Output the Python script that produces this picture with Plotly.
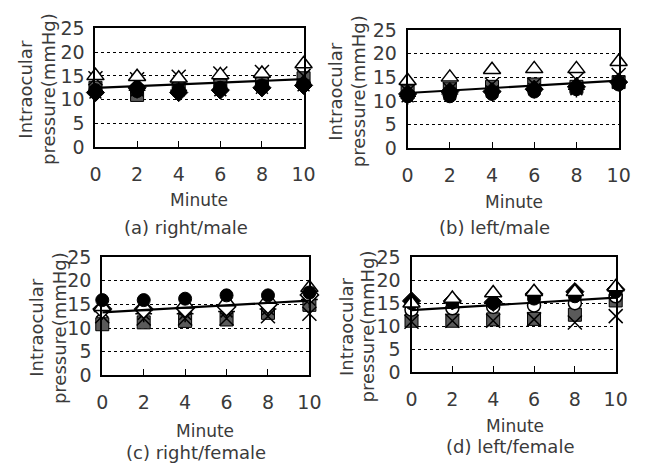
import plotly.graph_objects as go

minutes = [0, 2, 4, 6, 8, 10]
tick_y = [0, 5, 10, 15, 20, 25]

# (a) right/male
a_tri = [15.0, 14.8, 14.5, 15.2, 15.5, 17.5]
a_x = [14.5, 14.3, 14.8, 15.5, 15.8, 15.0]
a_circ = [12.0, 11.8, 12.0, 12.5, 13.0, 13.2]
a_dia = [11.5, 12.5, 11.5, 12.0, 12.5, 13.0]
a_sq = [12.5, 11.0, 12.5, 13.0, 13.5, 14.5]
a_ast = [11.5, 12.0, 12.0, 12.0, 12.5, 13.0]
a_trend = [12.5, 14.3]

# (b) left/male
b_tri = [14.3, 15.0, 16.6, 16.8, 16.8, 18.3]
b_x = [12.0, 12.5, 13.5, 13.5, 14.5, 15.5]
b_circ = [11.0, 11.0, 11.5, 12.0, 12.5, 13.5]
b_dia = [11.5, 12.0, 12.0, 12.5, 13.0, 14.0]
b_sq = [12.0, 12.5, 13.0, 13.5, 13.0, 14.0]
b_ast = [11.0, 11.5, 12.0, 12.5, 12.5, 14.0]
b_trend = [11.7, 14.3]

# (c) right/female
c_circ = [15.9, 15.9, 16.2, 16.9, 16.9, 17.5]
c_tri = [14.5, 14.5, 15.0, 15.5, 16.0, 18.5]
c_odia = [14.0, 14.0, 14.2, 14.5, 15.0, 17.0]
c_sq = [10.8, 11.2, 11.5, 11.8, 13.2, 14.9]
c_x = [12.5, 12.0, 12.0, 12.0, 12.5, 13.0]
c_ast = [13.5, 13.0, 13.0, 13.5, 14.0, 16.0]
c_trend = [13.3, 15.8]

# (d) left/female
d_tri = [15.0, 16.0, 17.2, 17.5, 17.5, 18.5]
d_dia = [15.5, 15.5, 15.2, 17.0, 17.5, 18.0]
d_circ = [15.0, 15.2, 15.0, 16.0, 16.5, 17.5]
d_ocirc = [13.6, 13.9, 14.2, 14.5, 15.0, 16.5]
d_sq = [11.2, 11.2, 11.5, 11.6, 12.5, 15.6]
d_x = [11.0, 11.2, 11.2, 11.5, 10.8, 12.2]
d_trend = [13.5, 16.2]
trend_x = [0, 10]

captions = ["(a) right/male", "(b) left/male", "(c) right/female", "(d) left/female"]

W, H = 653, 475
FONT = "DejaVu Sans"
TXT = "#3a3a3a"

# pixel boxes for panels: left, right, top, bottom
boxes = [(92, 306, 18, 143), (413, 630, 20, 144), (99, 312, 258, 382), (417, 627, 258, 379)]

styles = {
    "sq": dict(symbol="square", color="#5a5a5a", size=13, line=dict(color="black", width=1)),
    "x": dict(symbol="x-thin-open", color="black", size=14, line=dict(color="black", width=1.5)),
    "ast": dict(symbol="asterisk-open", color="black", size=14, line=dict(color="black", width=1.5)),
    "dia": dict(symbol="diamond", color="black", size=14, line=dict(color="black", width=1)),
    "odia": dict(symbol="diamond", color="white", size=14, line=dict(color="black", width=1.5)),
    "circ": dict(symbol="circle", color="black", size=13, line=dict(color="black", width=1)),
    "ocirc": dict(symbol="circle", color="white", size=13, line=dict(color="black", width=1.5)),
    "tri": dict(symbol="triangle-up", color="white", size=15, line=dict(color="black", width=1.5)),
}

panels = [
    [("sq", a_sq), ("x", a_x), ("ast", a_ast), ("dia", a_dia), ("circ", a_circ), ("tri", a_tri), ("trend", a_trend)],
    [("sq", b_sq), ("x", b_x), ("ast", b_ast), ("dia", b_dia), ("circ", b_circ), ("tri", b_tri), ("trend", b_trend)],
    [("sq", c_sq), ("x", c_x), ("ast", c_ast), ("odia", c_odia), ("tri", c_tri), ("circ", c_circ), ("trend", c_trend)],
    [("sq", d_sq), ("x", d_x), ("ocirc", d_ocirc), ("circ", d_circ), ("dia", d_dia), ("tri", d_tri), ("trend", d_trend)],
]

fig = go.Figure()
layout = dict(width=W, height=H, margin=dict(l=0, r=0, t=0, b=0),
              paper_bgcolor="white", plot_bgcolor="white", showlegend=False,
              font=dict(family=FONT, color=TXT, size=17))

for i, (box, series) in enumerate(zip(boxes, panels)):
    n = "" if i == 0 else str(i + 1)
    xa, ya = "x" + n, "y" + n
    for kind, vals in series:
        if kind == "trend":
            fig.add_trace(go.Scatter(x=trend_x, y=vals, mode="lines", xaxis=xa, yaxis=ya,
                                     line=dict(color="black", width=2.2), hoverinfo="skip"))
        else:
            fig.add_trace(go.Scatter(x=minutes, y=vals, mode="markers", xaxis=xa, yaxis=ya,
                                     marker=styles[kind], cliponaxis=False))
    l, r, t, b = box
    layout["xaxis" + n] = dict(domain=[l / W, r / W], anchor=ya, range=[0, 10],
                               tickvals=minutes, ticks="inside", ticklen=6, tickwidth=1.3,
                               tickcolor="black", showline=True, linecolor="black", linewidth=2,
                               mirror=True, showgrid=False, zeroline=False,
                               tickfont=dict(size=19, color=TXT, family=FONT),
                               ticklabelstandoff=9)
    layout["yaxis" + n] = dict(domain=[1 - b / H, 1 - t / H], anchor=xa, range=[0, 25],
                               tickvals=tick_y, ticks="", showline=True, linecolor="black",
                               linewidth=2, mirror=True, showgrid=True, gridcolor="black",
                               griddash="dot", gridwidth=1, zeroline=False,
                               tickfont=dict(size=19, color=TXT, family=FONT),
                               ticklabelstandoff=5)

ann_spec = [
    # (text, x px, y px, angle, size)
    ("Intraocular", 20, 82, -90, 18), ("pressure(mmHg)", 43, 82, -90, 18),
    ("Minute", 198, 198, 0, 17), (captions[0], 185, 227, 0, 18),
    ("Intraocular", 338, 84, -90, 18), ("pressure(mmHg)", 362, 84, -90, 18),
    ("Minute", 522, 200, 0, 17), (captions[1], 502, 227, 0, 18),
    ("Intraocular", 32, 332, -90, 18), ("pressure(mmHg)", 55, 332, -90, 18),
    ("Minute", 205, 440, 0, 17), (captions[2], 195, 463, 0, 18),
    ("Intraocular", 350, 331, -90, 18), ("pressure(mmHg)", 372, 331, -90, 18),
    ("Minute", 523, 435, 0, 17), (captions[3], 518, 457, 0, 18),
]
anns = []
for text, px, py, ang, sz in ann_spec:
    anns.append(dict(text=text, x=px / W, y=1 - py / H, xref="paper", yref="paper",
                     showarrow=False, textangle=ang, xanchor="center", yanchor="middle",
                     font=dict(size=sz, color=TXT, family=FONT)))
layout["annotations"] = anns
fig.update_layout(**layout)
fig.write_html("out.html")
